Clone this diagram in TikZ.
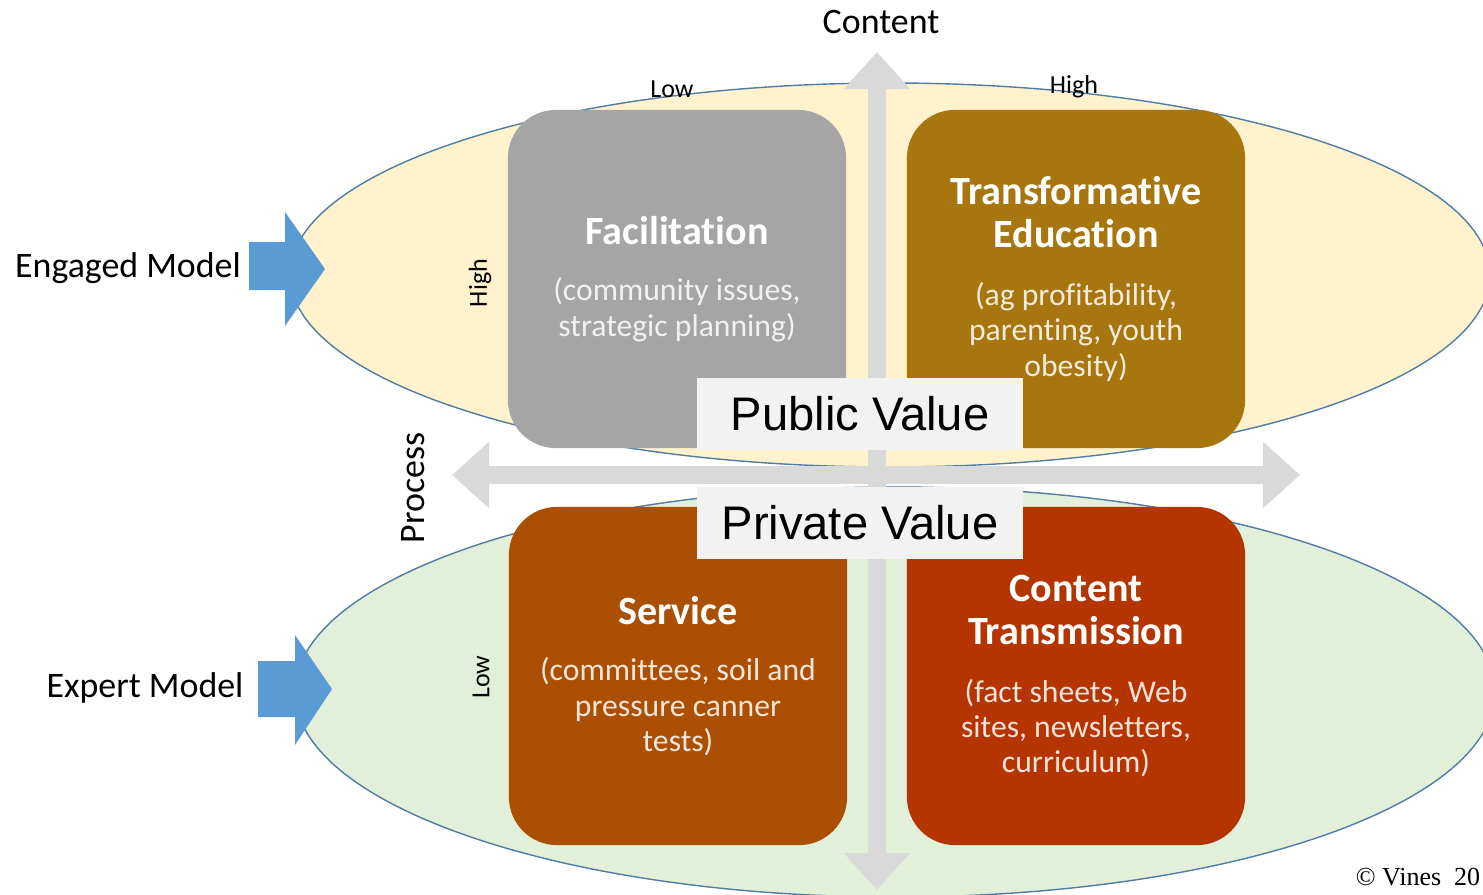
\documentclass[tikz,border=0pt]{standalone}
\usepackage{fontspec}
\setmainfont{Carlito}[Ligatures=NoCommon]
\newfontfamily\arialfont{Liberation Sans}
\newfontfamily\timesfont{Liberation Serif}
\usetikzlibrary{arrows.meta}

\definecolor{ovaloben}{HTML}{FFF2CC}
\definecolor{ovalunten}{HTML}{E2F0D9}
\definecolor{ovalrand}{HTML}{4F7DA6}
\definecolor{pfeilblau}{HTML}{5B9BD5}
\definecolor{achsgrau}{HTML}{D9D9D9}
\definecolor{wertgrau}{HTML}{F2F2F2}
\definecolor{facilfarbe}{HTML}{A5A5A5}
\definecolor{transfarbe}{HTML}{A8760F}
\definecolor{servfarbe}{HTML}{AB5003}
\definecolor{contfarbe}{HTML}{B53501}

\newcommand{\titel}[1]{{\color{white}\fontsize{11.4}{12.2}\selectfont\bfseries #1}}

\tikzset{
    oval/.style={draw=ovalrand, line width=0.4pt, fill=#1},
    quadrant/.style={fill=#1, text=#1!15!white, rounded corners=0.48cm,
        minimum width=3.38cm, minimum height=3.38cm, inner sep=0pt,
        align=center, font=\fontsize{9}{10}\selectfont},
    achse/.style={draw=achsgrau, line width=0.18cm,
        {Triangle[width=0.64cm,length=0.37cm]}-{Triangle[width=0.64cm,length=0.37cm]}},
    seite/.style={font=\fontsize{10.2}{12}\selectfont, inner sep=0pt},
    klein/.style={font=\fontsize{7.4}{9}\selectfont, inner sep=0pt},
    wert/.style={fill=wertgrau, minimum width=3.26cm, minimum height=0.72cm,
        inner sep=0pt, font=\arialfont\fontsize{13.4}{16}\selectfont},
}

\begin{document}
\begin{tikzpicture}[x=0.01cm, y=-0.01cm]
    \useasboundingbox (0,0) rectangle (1483,894);
    \clip (0,0) rectangle (1483,894);

    % Ovale
    \draw[oval=ovaloben]  (890,275) ellipse [x radius=600, y radius=192];
    \draw[oval=ovalunten] (895,692) ellipse [x radius=600, y radius=205];

    % Modell-Pfeile
    \fill[pfeilblau] (249,242) -- (285,242) -- (285,212) -- (325,269)
        -- (285,326) -- (285,290) -- (249,290) -- cycle;
    \fill[pfeilblau] (258,661) -- (295,661) -- (295,635) -- (332,689)
        -- (295,745) -- (295,717) -- (258,717) -- cycle;
    \node[seite] (engaged) at (128,268) {Engaged Model};
    \node[seite] (expert)  at (145,688) {Expert Model};

    % Achsen
    \coordinate (oben)   at (877,52);
    \coordinate (unten)  at (877,890);
    \coordinate (links)  at (452,475);
    \coordinate (rechts) at (1300,475);
    \draw[achse] (unten) -- (oben);
    \draw[achse] (links) -- (rechts);

    % Achsenbeschriftung
    \node[seite] (content) at (881,22) {Content};
    \node[klein] (inhaltlow)  at (672,89) {Low};
    \node[klein] (inhalthigh) at (1074,87) {High};
    \node[klein, rotate=90] (prozesshigh) at (480,283) {High};
    \node[klein, rotate=90] (prozesslow)  at (481,677) {Low};
    \node[seite, rotate=90] (process) at (413,488) {Process};

    % Quadranten
    \node[quadrant=facilfarbe] (facil) at (677,279)
        {\titel{Facilitation}\\[6pt] (community issues,\\ strategic planning)};
    \node[quadrant=transfarbe] (transf) at (1076,279)
        {\titel{Transformative}\\[2.2pt] \titel{Education}\\[6.5pt]
         (ag profitability,\\ parenting, youth\\ obesity)};
    \node[quadrant=servfarbe] (serv) at (678,676)
        {\titel{Service}\\[6pt] (committees, soil and\\ pressure canner\\ tests)};
    \node[quadrant=contfarbe] (cont) at (1076,676)
        {\titel{Content}\\[2.2pt] \titel{Transmission}\\[6.5pt]
         (fact sheets, Web\\ sites, newsletters,\\ curriculum)};

    % Werte
    \node[wert] (public)  at (860,414) {Public Value};
    \node[wert] (private) at (860,523) {Private Value};

    \node[font=\timesfont\fontsize{7.4}{9}\selectfont, inner sep=0pt] (vines)
        at (1418,877) {© Vines\ \ 20};
\end{tikzpicture}
\end{document}
